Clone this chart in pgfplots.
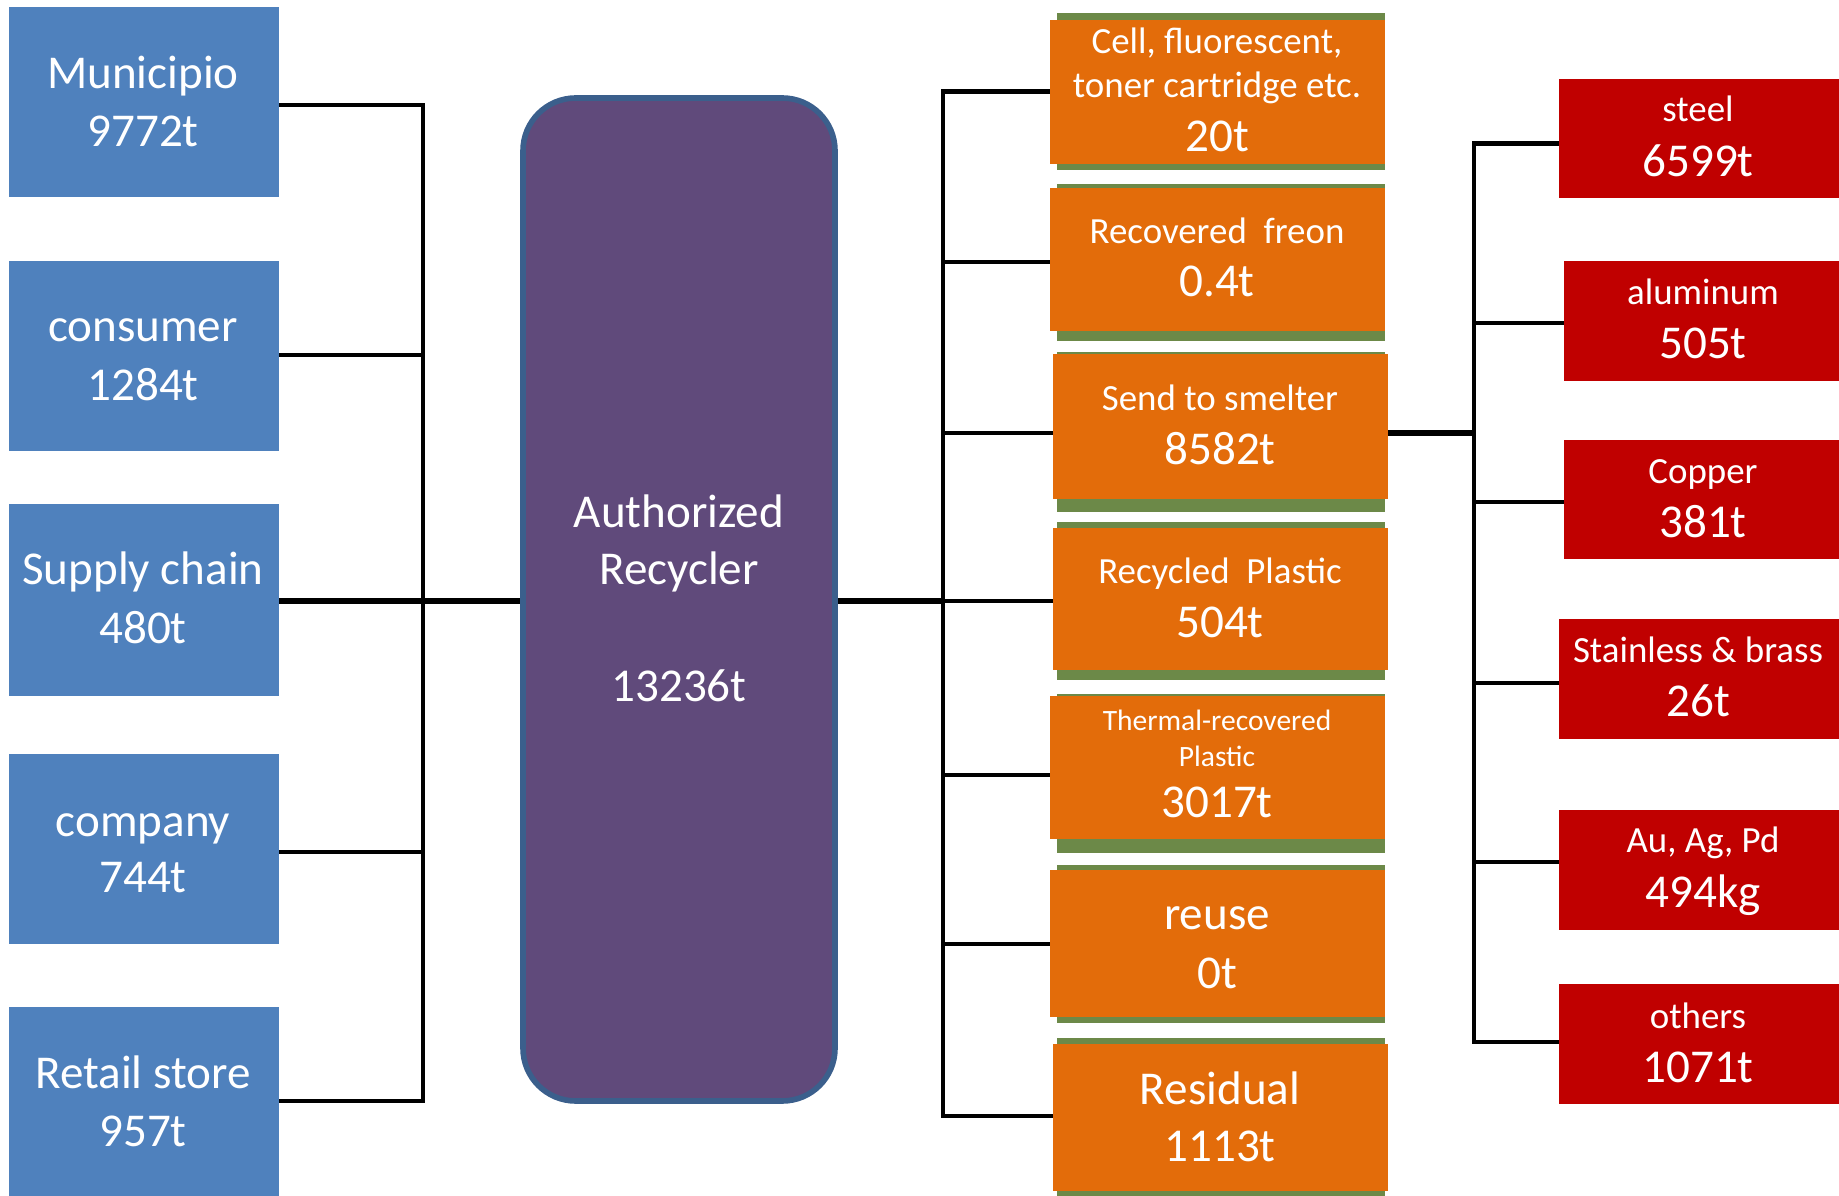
\documentclass[border=0pt]{standalone}
\usepackage{pgfplots}
\pgfplotsset{compat=1.18}
\usepackage{fontspec}
\setmainfont{Carlito}
\definecolor{boxblue}{RGB}{79,129,189}
\definecolor{purp}{RGB}{96,74,123}
\definecolor{purpedge}{RGB}{59,95,140}
\definecolor{orng}{RGB}{227,108,10}
\definecolor{grn}{RGB}{108,137,72}
\definecolor{rd}{RGB}{192,0,0}
\newcommand\fbig{\fontsize{13.4}{16}\selectfont}
\newcommand\fmid{\fontsize{10.5}{12.6}\selectfont}
\newcommand\fsml{\fontsize{8.4}{10}\selectfont}
\tikzset{lab/.style={anchor=base,text=white,inner sep=0pt}}
\begin{document}
\begin{tikzpicture}
\begin{axis}[scale only axis, width=183.9mm, height=119.6mm,
  xmin=0, xmax=1839, ymin=0, ymax=1196, y dir=reverse,
  hide axis, clip=false, no markers]
% frame for the bounding box (invisible)
\addplot[draw=none] coordinates {(0,0) (1839,1196)};
% ---------- left connectors
\addplot[black, line width=1.2pt] coordinates {(279,105) (423,105) (423,1101) (279,1101)};
\addplot[black, line width=1.2pt] coordinates {(279,355) (423,355)};
\addplot[black, line width=1.2pt] coordinates {(279,852) (423,852)};
\addplot[black, line width=1.5pt] coordinates {(279,601) (523,601)};
% ---------- middle connectors
\addplot[black, line width=1.5pt] coordinates {(835,601) (943,601)};
\addplot[black, line width=1.2pt] coordinates {(1055,91.5) (943,91.5) (943,1116) (1055,1116)};
\addplot[black, line width=1.2pt] coordinates {(943,262) (1055,262)};
\addplot[black, line width=1.2pt] coordinates {(943,433) (1055,433)};
\addplot[black, line width=1.2pt] coordinates {(943,601) (1055,601)};
\addplot[black, line width=1.2pt] coordinates {(943,775) (1055,775)};
\addplot[black, line width=1.2pt] coordinates {(943,944) (1055,944)};
% ---------- right connectors
\addplot[black, line width=1.6pt] coordinates {(1385,433) (1474,433)};
\addplot[black, line width=1.2pt] coordinates {(1562,143.5) (1474,143.5) (1474,1042) (1562,1042)};
\addplot[black, line width=1.2pt] coordinates {(1474,323) (1566,323)};
\addplot[black, line width=1.2pt] coordinates {(1474,502) (1566,502)};
\addplot[black, line width=1.2pt] coordinates {(1474,683) (1562,683)};
\addplot[black, line width=1.2pt] coordinates {(1474,862) (1562,862)};
% ---------- blue source boxes
\addplot[fill=boxblue, draw=none] coordinates {(9,7) (279,7) (279,197) (9,197)};
\addplot[fill=boxblue, draw=none] coordinates {(9,261) (279,261) (279,451) (9,451)};
\addplot[fill=boxblue, draw=none] coordinates {(9,504) (279,504) (279,696) (9,696)};
\addplot[fill=boxblue, draw=none] coordinates {(9,754) (279,754) (279,944) (9,944)};
\addplot[fill=boxblue, draw=none] coordinates {(9,1007) (279,1007) (279,1196) (9,1196)};
% ---------- purple recycler
\addplot[fill=purp, draw=purpedge, line width=1.6pt, rounded corners=15pt] coordinates {(523,98) (835,98) (835,1101) (523,1101)} --cycle;
% ---------- orange boxes (green strip behind)
\addplot[fill=grn, draw=none] coordinates {(1057,13) (1385,13) (1385,170) (1057,170)};
\addplot[fill=orng, draw=none] coordinates {(1050,20) (1385,20) (1385,164) (1050,164)};
\addplot[fill=grn, draw=none] coordinates {(1057,184) (1385,184) (1385,341) (1057,341)};
\addplot[fill=orng, draw=none] coordinates {(1050,188) (1385,188) (1385,331) (1050,331)};
\addplot[fill=grn, draw=none] coordinates {(1057,352) (1385,352) (1385,512) (1057,512)};
\addplot[fill=orng, draw=none] coordinates {(1053,354) (1388,354) (1388,499) (1053,499)};
\addplot[fill=grn, draw=none] coordinates {(1057,522) (1385,522) (1385,680) (1057,680)};
\addplot[fill=orng, draw=none] coordinates {(1053,528) (1388,528) (1388,670) (1053,670)};
\addplot[fill=grn, draw=none] coordinates {(1057,694) (1385,694) (1385,853) (1057,853)};
\addplot[fill=orng, draw=none] coordinates {(1050,696) (1385,696) (1385,839) (1050,839)};
\addplot[fill=grn, draw=none] coordinates {(1057,865) (1385,865) (1385,1023) (1057,1023)};
\addplot[fill=orng, draw=none] coordinates {(1050,870) (1385,870) (1385,1017) (1050,1017)};
\addplot[fill=grn, draw=none] coordinates {(1057,1038) (1385,1038) (1385,1196) (1057,1196)};
\addplot[fill=orng, draw=none] coordinates {(1053,1044) (1388,1044) (1388,1191) (1053,1191)};
% ---------- red material boxes
\addplot[fill=rd, draw=none] coordinates {(1559,79) (1839,79) (1839,198) (1559,198)};
\addplot[fill=rd, draw=none] coordinates {(1564,261) (1839,261) (1839,381) (1564,381)};
\addplot[fill=rd, draw=none] coordinates {(1564,440) (1839,440) (1839,559) (1564,559)};
\addplot[fill=rd, draw=none] coordinates {(1559,619) (1839,619) (1839,739) (1559,739)};
\addplot[fill=rd, draw=none] coordinates {(1559,810) (1839,810) (1839,930) (1559,930)};
\addplot[fill=rd, draw=none] coordinates {(1559,984) (1839,984) (1839,1104) (1559,1104)};
% ---------- texts: sources
\node[lab,font=\fbig] at (axis cs:143,89) {Municipio};
\node[lab,font=\fbig] at (axis cs:143,147) {9772t};
\node[lab,font=\fbig] at (axis cs:143,342) {consumer};
\node[lab,font=\fbig] at (axis cs:143,401) {1284t};
\node[lab,font=\fbig] at (axis cs:143,585) {Supply chain};
\node[lab,font=\fbig] at (axis cs:143,644) {480t};
\node[lab,font=\fbig] at (axis cs:143,837) {company};
\node[lab,font=\fbig] at (axis cs:143,893) {744t};
\node[lab,font=\fbig] at (axis cs:143,1088) {Retail store};
\node[lab,font=\fbig] at (axis cs:143,1146) {957t};
% recycler
\node[lab,font=\fbig] at (axis cs:679,528) {Authorized};
\node[lab,font=\fbig] at (axis cs:679,585) {Recycler};
\node[lab,font=\fbig] at (axis cs:679,702) {13236t};
% outputs
\node[lab,font=\fmid] at (axis cs:1217,53.5) {Cell, fluorescent,};
\node[lab,font=\fmid] at (axis cs:1217,97.5) {toner cartridge etc.};
\node[lab,font=\fbig] at (axis cs:1217,152) {20t};
\node[lab,font=\fmid] at (axis cs:1217,244) {Recovered~ freon};
\node[lab,font=\fbig] at (axis cs:1217,296.5) {0.4t};
\node[lab,font=\fmid] at (axis cs:1220,411) {Send to smelter};
\node[lab,font=\fbig] at (axis cs:1220,465) {8582t};
\node[lab,font=\fmid] at (axis cs:1220,583.5) {Recycled~ Plastic};
\node[lab,font=\fbig] at (axis cs:1220,638) {504t};
\node[lab,font=\fsml] at (axis cs:1217,731) {Thermal-recovered};
\node[lab,font=\fsml] at (axis cs:1217,767) {Plastic};
\node[lab,font=\fbig] at (axis cs:1217,818) {3017t};
\node[lab,font=\fbig] at (axis cs:1217,930) {reuse};
\node[lab,font=\fbig] at (axis cs:1217,988) {0t};
\node[lab,font=\fbig] at (axis cs:1220,1104.5) {Residual};
\node[lab,font=\fbig] at (axis cs:1220,1161.5) {1113t};
% materials
\node[lab,font=\fmid] at (axis cs:1698,121.5) {steel};
\node[lab,font=\fbig] at (axis cs:1698,177) {6599t};
\node[lab,font=\fmid] at (axis cs:1703,305) {aluminum};
\node[lab,font=\fbig] at (axis cs:1703,359) {505t};
\node[lab,font=\fmid] at (axis cs:1703,484) {Copper};
\node[lab,font=\fbig] at (axis cs:1703,537.5) {381t};
\node[lab,font=\fmid] at (axis cs:1698,662.5) {Stainless \& brass};
\node[lab,font=\fbig] at (axis cs:1698,716.5) {26t};
\node[lab,font=\fmid] at (axis cs:1703,853) {Au, Ag, Pd};
\node[lab,font=\fbig] at (axis cs:1703,907) {494kg};
\node[lab,font=\fmid] at (axis cs:1698,1028) {others};
\node[lab,font=\fbig] at (axis cs:1698,1082) {1071t};
\end{axis}
\end{tikzpicture}
\end{document}
